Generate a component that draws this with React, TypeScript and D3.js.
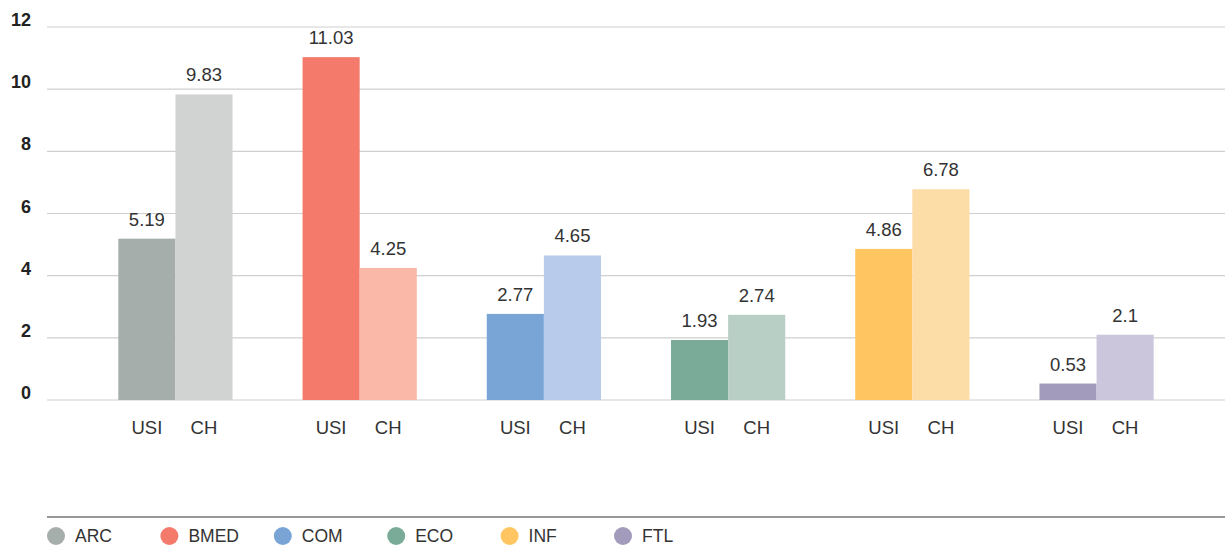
import React from "react";
import * as d3 from "d3";

const categories = ["ARC", "BMED", "COM", "ECO", "INF", "FTL"];
const seriesNames = ["USI", "CH"];
const usiValues = [5.19, 11.03, 2.77, 1.93, 4.86, 0.53];
const chValues = [9.83, 4.25, 4.65, 2.74, 6.78, 2.1];
const usiLabels = ["5.19", "11.03", "2.77", "1.93", "4.86", "0.53"];
const chLabels = ["9.83", "4.25", "4.65", "2.74", "6.78", "2.1"];
const yTicks = [0, 2, 4, 6, 8, 10, 12];
const usiColors = ["#a6aeac", "#f47a6b", "#79a4d6", "#7aab98", "#ffc560", "#a29bbb"];
const chColors = ["#d1d3d2", "#f9b8a8", "#b9cbea", "#b8cfc6", "#fddda7", "#cbc6dc"];

const W = 1225;
const H = 546;
const FONT = "'Liberation Sans', Arial, Helvetica, sans-serif";

export default function App() {
  const y = d3.scaleLinear().domain([0, 12]).range([400, 27]);
  const x0 = d3
    .scaleBand<string>()
    .domain(categories)
    .range([52, 1220])
    .paddingInner(0.38)
    .paddingOuter(0.36);
  const x1 = d3.scaleBand<string>().domain(seriesNames).range([0, x0.bandwidth()]).padding(0);
  const legendX = d3.scalePoint<string>().domain(categories).range([56, 623]);

  const rows = categories.map((c, i) => ({
    cat: c,
    items: [
      { s: "USI", v: usiValues[i], label: usiLabels[i], color: usiColors[i] },
      { s: "CH", v: chValues[i], label: chLabels[i], color: chColors[i] },
    ],
  }));

  return (
    <svg
      width={W}
      height={H}
      style={{ position: "absolute", left: 0, top: 0, background: "#fff" }}
      fontFamily={FONT}
    >
      {yTicks.map((t) => (
        <g key={t}>
          <line x1={47} x2={W} y1={y(t)} y2={y(t)} stroke="#cfcfcf" strokeWidth={1.2} />
          <text
            x={31}
            y={y(t) - 1}
            textAnchor="end"
            fontSize={18}
            fontWeight="bold"
            fill="#222"
          >
            {t}
          </text>
        </g>
      ))}
      {rows.map((r) => (
        <g key={r.cat} transform={`translate(${x0(r.cat)},0)`}>
          {r.items.map((it) => {
            const bx = x1(it.s)!;
            const bw = x1.bandwidth();
            return (
              <g key={it.s}>
                <rect x={bx} y={y(it.v)} width={bw} height={y(0) - y(it.v)} fill={it.color} />
                <text
                  x={bx + bw / 2}
                  y={y(it.v) - 13}
                  textAnchor="middle"
                  fontSize={18.5}
                  fill="#333"
                >
                  {it.label}
                </text>
                <text x={bx + bw / 2} y={434} textAnchor="middle" fontSize={18.5} fill="#333">
                  {it.s}
                </text>
              </g>
            );
          })}
        </g>
      ))}
      <line x1={47} x2={W} y1={517} y2={517} stroke="#333" strokeWidth={1.2} />
      {categories.map((c, i) => (
        <g key={c} transform={`translate(${legendX(c)},536)`}>
          <circle r={9} fill={usiColors[i]} />
          <text x={19} y={6} fontSize={17.5} fill="#333">
            {c}
          </text>
        </g>
      ))}
    </svg>
  );
}
